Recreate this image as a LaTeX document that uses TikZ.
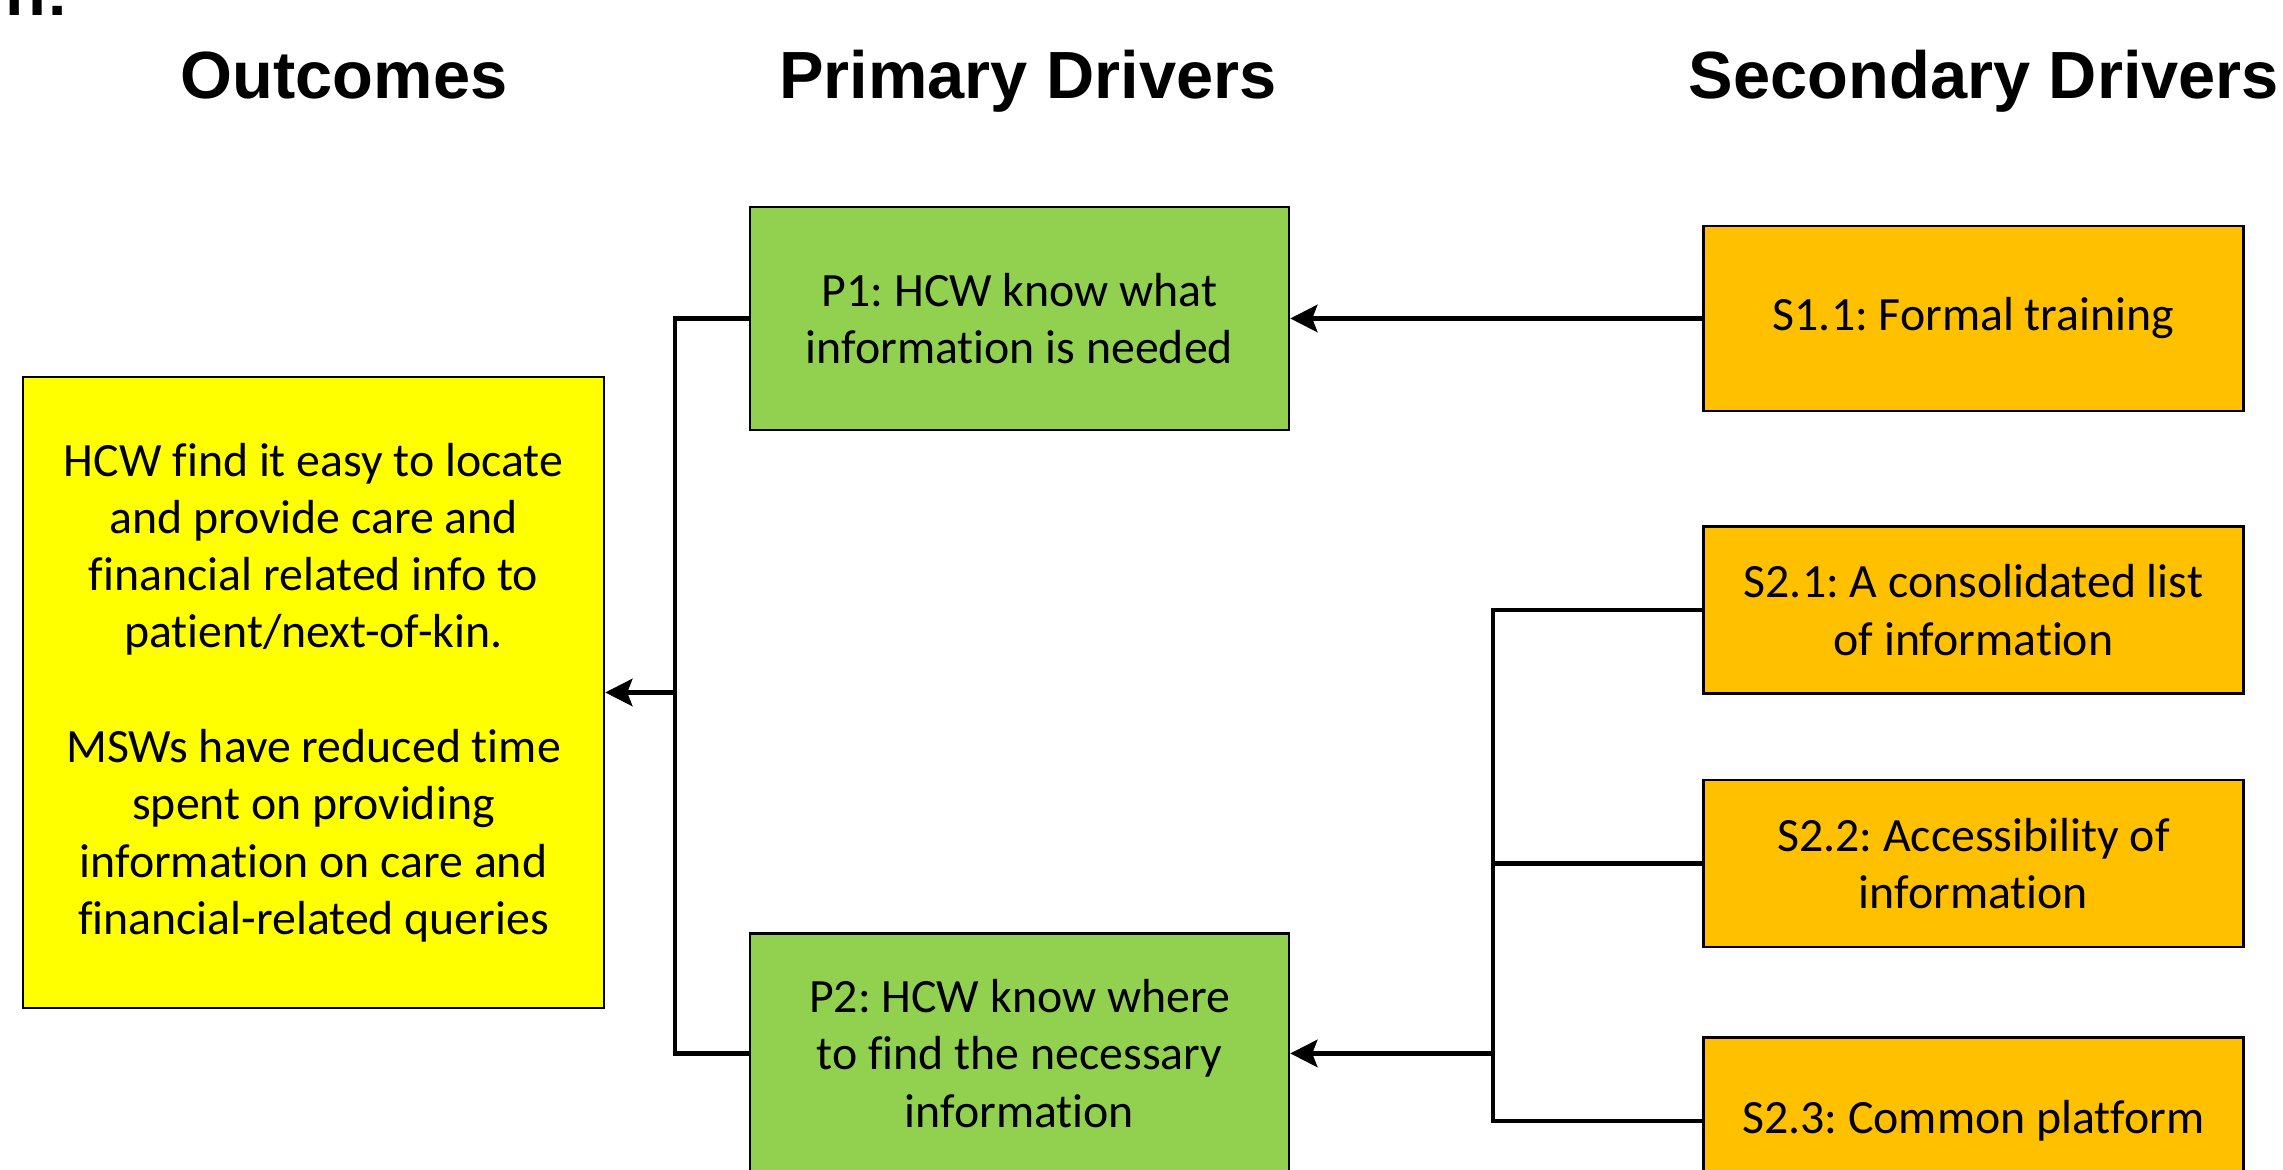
\documentclass[tikz,border=0pt]{standalone}
\usepackage{fontspec}
\setmainfont{Carlito}[Ligatures=NoCommon]
\newfontfamily\headfont{Liberation Sans}
\usepackage{tikz}
\usetikzlibrary{positioning, arrows.meta}
\usepackage{xcolor}
\definecolor{outyellow}{HTML}{FFFF00}
\definecolor{drvgreen}{HTML}{92D050}
\definecolor{drvorange}{HTML}{FFC000}
\frenchspacing

\begin{document}
\begin{tikzpicture}[
    block/.style={rectangle, draw, line width=0.7pt, align=center, inner sep=0pt,
    font=\fontsize{13.6}{16.3}\selectfont},
    primary/.style={block, fill=drvgreen, minimum width=5.39cm, minimum height=2.23cm},
    secondary/.style={block, fill=drvorange, minimum width=5.4cm, minimum height=1.67cm},
    heading/.style={anchor=base, inner sep=0pt, font=\headfont\bfseries\fontsize{19}{22}\selectfont},
    link/.style={line width=1.2pt},
    arrow/.style={line width=1.5pt, -{Stealth[length=0.27cm, width=0.27cm, inset=0.05cm]}}
]

\useasboundingbox (0,0) rectangle (22.83,11.70);
\clip (0,0) rectangle (22.83,11.70);

\node[heading, anchor=base east] (title) at (0.69,11.54) {n:};

\node[heading] (hout) at (3.44,10.71) {Outcomes};
\node[heading] (hpri) at (10.28,10.71) {Primary Drivers};
\node[heading] (hsec) at (19.84,10.71) {Secondary Drivers};

\node[block, fill=outyellow, minimum width=5.81cm, minimum height=6.31cm] (out) at (3.135,4.775)
    {HCW find it easy to locate\\and provide care and\\financial related info to\\patient/next-of-kin.\\[16.3pt]
     MSWs have reduced time\\spent on providing\\information on care and\\financial-related queries};

\node[primary] (p1) at (10.195,8.515) {P1: HCW know what\\information is needed};
\node[primary, minimum height=2.4cm, below=5.01cm of p1] (p2) {P2: HCW know where\\to find the necessary\\information};

\node[secondary, minimum height=1.85cm, right=4.12cm of p1] (s11) {S1.1: Formal training};
\node[secondary, below=1.13cm of s11] (s21) {S2.1: A consolidated list\\of information};
\node[secondary, below=0.84cm of s21] (s22) {S2.2: Accessibility of\\information};
\node[secondary, below=0.88cm of s22] (s23) {S2.3: Common platform};

\coordinate[right=0.7cm of out.east] (lbus);
\coordinate[right=2.03cm of p2.east] (rbus);

\draw[link] (p1.west) -| (lbus) |- (p2.west);
\draw[arrow] (lbus) -- (out.east);
\draw[arrow] (s11) -- (p1);
\draw[link] (s21.west) -| (rbus) |- (s23.west);
\draw[link] (s22.west) -- (s22.west -| rbus);
\draw[arrow] (rbus) -- (p2.east);

\end{tikzpicture}
\end{document}
